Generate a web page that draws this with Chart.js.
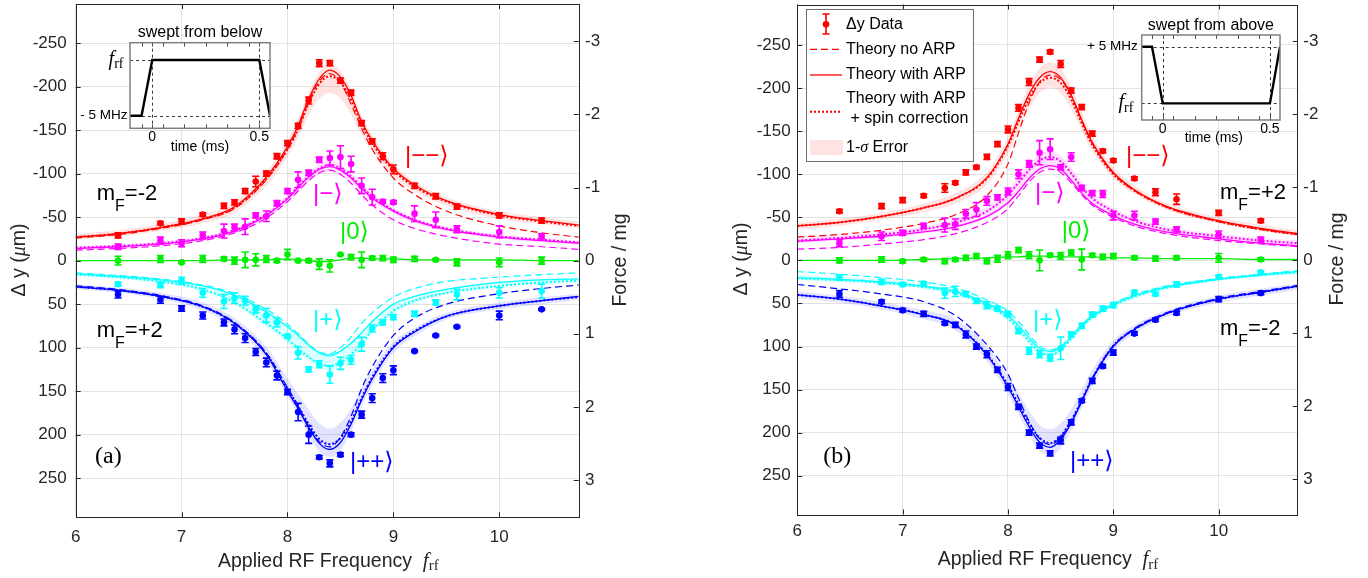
<!DOCTYPE html>
<html>
<head>
<meta charset="utf-8">
<title>Δy versus applied RF frequency</title>
<script src="https://cdn.jsdelivr.net/npm/chart.js@4.4.1/dist/chart.umd.min.js"></script>
<style>
html, body { margin:0; padding:0; background:#ffffff; }
#stage { position:relative; width:1368px; height:578px; overflow:hidden; background:#ffffff; }
#stage canvas { position:absolute; }
</style>
</head>
<body>
<div id="stage">
  <canvas id="chartA" width="684" height="578" style="left:0px;top:0px;"></canvas>
  <canvas id="chartB" width="684" height="578" style="left:684px;top:0px;"></canvas>
  <canvas id="insetA" width="220" height="140" style="left:70px;top:16px;"></canvas>
  <canvas id="insetB" width="220" height="140" style="left:1078px;top:8px;"></canvas>
</div>
<script>
// ---------------- data ----------------
const freq = [6.4, 6.8, 7.0, 7.2, 7.4, 7.5, 7.6, 7.7, 7.8, 7.9, 8.0, 8.1, 8.2, 8.3, 8.4, 8.5, 8.6, 8.7, 8.8, 8.9, 9.0, 9.2, 9.4, 9.6, 10.0, 10.4];
const curveX = [6, 6.4, 6.8, 7.2, 7.5, 7.8, 8.0, 8.1, 8.2, 8.3, 8.4, 8.5, 8.6, 8.7, 8.8, 9.0, 9.2, 9.5, 10, 10.4, 10.75];
const xTicks = [6, 7, 8, 9, 10];
const yTicks = [-250, -200, -150, -100, -50, 0, 50, 100, 150, 200, 250];
const forceTicks = [-3, -2, -1, 0, 1, 2, 3];

// (a) swept from below : measured data
const aRedData = [-29, -43, -45, -53, -63, -67, -80, -91, -100, -120, -135, -155, -184, -227, -227, -207, -193, -158, -137, -120, -105, -86, -74, -62, -52, -46];
const aRedErr  = [3, 2, 3, 2, 3, 3, 3, 6, 3, 3, 3, 3, 4, 4, 3, 3, 3, 3, 3, 4, 5, 3, 3, 3, 3, 3];
const aMagData = [-16, -23, -20, -29, -34, -38, -39, -52, -51, -66, -80, -93, -101, -116, -118, -119, -111, -86, -73, -68, -67, -54, -47, -36, -33, -28];
const aMagErr  = [3, 4, 4, 4, 8, 4, 9, 3, 6, 3, 3, 9, 3, 3, 8, 13, 9, 9, 9, 2, 2, 9, 9, 4, 7, 3];
const aGrnData = [0, -2, 2, -2, -2, 0, -1, -1, -2, 0, -7, 0, 0, 4, 6, -7, -4, -1, -3, -3, -1, -2, -1, 2, 2, 0];
const aGrnErr  = [5, 4, 1, 4, 2, 4, 9, 7, 4, 2, 6, 1, 2, 6, 7, 1, 3, 9, 2, 3, 3, 3, 1, 4, 5, 4];
const aCyaData = [27, 28, 23, 37, 47, 43, 46, 56, 63, 71, 87, 106, 125, 119, 131, 118, 114, 96, 78, 71, 65, 61, 48, 39, 37, 35];
const aCyaErr  = [2, 3, 4, 5, 8, 6, 5, 4, 8, 5, 2, 7, 3, 4, 10, 7, 5, 8, 4, 3, 3, 3, 3, 6, 6, 8];
const aBluData = [39, 45, 55, 63, 71, 79, 89, 105, 117, 132, 151, 174, 200, 226, 233, 223, 200, 177, 158, 135, 126, 104, 86, 76, 63, 56];
const aBluErr  = [4, 4, 3, 4, 4, 5, 5, 4, 5, 5, 3, 10, 10, 2, 4, 2, 2, 4, 5, 5, 5, 1, 1, 1, 5, 1];

// (a) theory curves (sampled at curveX)
const aRedSolid   = [-27, -31, -38, -48, -62, -96, -131, -155, -186, -209, -219, -211, -190, -160, -138, -106, -87, -69, -53, -46, -41];
const aRedDotted  = [-27, -31, -38, -48, -61, -94, -128, -151, -181, -203, -212, -205, -185, -157, -135, -104, -85, -68, -52, -45, -40];
const aRedDashed  = [-26, -30, -37, -47, -60, -93, -128, -152, -183, -206, -215, -205, -180, -152, -128, -95, -76, -57, -40, -32, -27];
const aRedBandOut = [-31, -35, -42, -53, -67, -102, -138, -163, -193, -216, -226, -218, -197, -167, -144, -111, -91, -73, -57, -50, -45];
const aRedBandIn  = [-24, -28, -34, -43, -55, -86, -119, -141, -167, -186, -193, -186, -168, -145, -126, -98, -80, -63, -48, -42, -37];
const aMagSolid   = [-14, -16, -19, -25, -34, -52, -71, -84, -96, -105, -108, -104, -95, -83, -72, -57, -46, -36, -27, -23, -20];
const aMagDotted  = [-15, -17, -20, -26, -35, -53, -72, -85, -97, -106, -110, -106, -97, -85, -74, -58, -47, -37, -28, -24, -21];
const aMagDashed  = [-12, -14, -17, -23, -32, -49, -68, -80, -92, -101, -104, -99, -89, -76, -64, -47, -37, -28, -19, -16, -13];
const aMagBandOut = [-16, -18, -22, -28, -37, -56, -76, -89, -101, -111, -115, -111, -101, -89, -77, -61, -49, -39, -30, -26, -23];
const aMagBandIn  = [-12, -14, -17, -23, -31, -48, -66, -78, -90, -99, -102, -98, -90, -79, -68, -54, -43, -34, -25, -21, -18];
const aGrnSolid   = [0, 0, 0, 0, -1, -1, -2, -1, 0, 1, 1, -1, -3, -3, -2, -2, -1, -1, -1, 0, 0];
const aCyaSolid   = [15, 18, 22, 29, 40, 59, 76, 86, 97, 106, 109, 104, 95, 83, 70, 50, 41, 33, 25, 22, 21];
const aCyaDotted  = [16, 19, 24, 33, 48, 72, 90, 101, 111, 118, 121, 117, 108, 95, 80, 58, 46, 37, 29, 25, 23];
const aCyaDashed  = [14, 17, 21, 28, 38, 56, 73, 84, 96, 105, 107, 100, 88, 72, 60, 42, 32, 24, 19, 16, 14];
const aCyaBandOut = [17, 21, 26, 36, 51, 76, 95, 106, 116, 123, 126, 122, 113, 100, 84, 61, 49, 39, 31, 27, 25];
const aCyaBandIn  = [14, 17, 21, 28, 39, 57, 74, 84, 95, 104, 107, 102, 93, 81, 68, 49, 40, 32, 24, 21, 20];
const aBluSolid   = [30, 34, 41, 53, 72, 108, 150, 170, 192, 210, 217, 209, 188, 160, 136, 100, 82, 64, 52, 46, 41];
const aBluDotted  = [30, 34, 41, 53, 72, 107, 147, 167, 188, 205, 211, 204, 185, 158, 134, 99, 81, 64, 52, 46, 42];
const aBluDashed  = [29, 33, 40, 52, 71, 106, 146, 167, 190, 208, 214, 203, 179, 147, 122, 86, 66, 50, 38, 32, 28];
const aBluBandOut = [33, 37, 44, 57, 77, 115, 156, 177, 200, 219, 226, 218, 197, 168, 143, 106, 87, 68, 56, 50, 45];
const aBluBandIn  = [27, 31, 37, 48, 66, 99, 135, 153, 171, 187, 193, 186, 170, 146, 125, 93, 77, 60, 48, 42, 38];

// (b) swept from above : measured data
const bRedData = [-57, -63, -70, -75, -84, -90, -102, -108, -120, -135, -152, -177, -207, -233, -242, -228, -197, -178, -147, -127, -116, -95, -79, -71, -55, -46];
const bRedErr  = [2, 3, 3, 2, 5, 2, 3, 2, 3, 3, 4, 4, 4, 3, 2, 4, 3, 3, 3, 2, 2, 2, 4, 6, 3, 2];
const bMagData = [-20, -28, -32, -40, -41, -42, -54, -59, -69, -73, -80, -100, -112, -125, -129, -108, -120, -84, -78, -77, -52, -52, -45, -36, -30, -24];
const bMagErr  = [4, 5, 3, 3, 8, 6, 5, 8, 5, 3, 4, 5, 4, 14, 12, 3, 5, 3, 3, 4, 5, 5, 3, 3, 4, 3];
const bGrnData = [0, -1, 1, -1, 1, -1, -3, -5, 1, -2, -6, -12, -6, 0, -6, -5, -9, -1, -6, -4, -5, -3, -2, -3, -3, -1];
const bGrnErr  = [3, 3, 2, 2, 3, 2, 3, 3, 3, 4, 4, 3, 4, 12, 2, 4, 3, 12, 2, 3, 3, 2, 3, 2, 5, 2];
const bCyaData = [20, 25, 28, 27, 38, 36, 39, 47, 52, 56, 62, 82, 105, 109, 113, 102, 86, 76, 63, 56, 52, 37, 39, 28, 19, 14];
const bCyaErr  = [3, 3, 2, 2, 6, 6, 3, 3, 4, 3, 3, 3, 4, 4, 4, 13, 3, 3, 3, 3, 3, 2, 2, 3, 2, 2];
const bBluData = [39, 48, 58, 62, 73, 75, 86, 100, 109, 127, 147, 170, 200, 215, 224, 209, 188, 163, 140, 123, 107, 85, 69, 61, 45, 38];
const bBluErr  = [4, 2, 2, 3, 2, 3, 4, 3, 4, 3, 4, 3, 3, 3, 3, 4, 3, 2, 3, 2, 3, 2, 2, 2, 3, 2];

// (b) theory curves
const bRedSolid   = [-40, -44, -51, -61, -72, -96, -135, -165, -193, -212, -219, -212, -192, -163, -137, -102, -82, -63, -46, -37, -31];
const bRedDotted  = [-40, -44, -51, -61, -72, -95, -133, -161, -188, -206, -212, -206, -187, -159, -134, -100, -81, -62, -45, -36, -30];
const bRedDashed  = [-27, -30, -35, -43, -53, -75, -112, -148, -183, -207, -215, -210, -191, -162, -136, -101, -81, -62, -45, -36, -30];
const bRedBandOut = [-44, -48, -55, -66, -78, -103, -143, -174, -203, -223, -230, -223, -202, -172, -145, -108, -87, -67, -50, -41, -35];
const bRedBandIn  = [-36, -40, -47, -56, -66, -88, -124, -151, -176, -194, -201, -194, -176, -150, -127, -95, -77, -59, -43, -34, -28];
const bMagSolid   = [-22, -25, -28, -33, -39, -51, -67, -80, -95, -106, -110, -106, -93, -78, -66, -52, -42, -33, -25, -20, -17];
const bMagDotted  = [-23, -26, -30, -36, -44, -57, -76, -90, -105, -116, -120, -115, -101, -85, -72, -57, -46, -36, -28, -23, -20];
const bMagDashed  = [-13, -15, -19, -24, -31, -44, -60, -75, -91, -102, -106, -102, -90, -76, -64, -50, -40, -31, -23, -19, -16];
const bMagBandOut = [-26, -29, -33, -39, -48, -62, -82, -97, -112, -123, -127, -122, -108, -91, -77, -61, -50, -39, -31, -26, -23];
const bMagBandIn  = [-20, -23, -26, -31, -37, -49, -65, -78, -92, -103, -107, -103, -90, -76, -64, -50, -40, -31, -23, -18, -15];
const bGrnSolid   = [0, 0, 0, -1, -2, -3, -4, -4, -5, -5, -5, -4, -4, -4, -4, -3, -3, -2, -2, -1, -1];
const bCyaSolid   = [20, 22, 25, 30, 36, 50, 64, 76, 90, 102, 106, 101, 89, 76, 65, 51, 41, 31, 22, 17, 13];
const bCyaDotted  = [21, 23, 26, 31, 38, 52, 67, 80, 94, 106, 110, 104, 91, 77, 66, 52, 42, 32, 22, 17, 14];
const bCyaDashed  = [13, 16, 20, 25, 32, 46, 59, 71, 86, 99, 104, 100, 88, 75, 64, 50, 40, 30, 21, 16, 12];
const bCyaBandOut = [23, 25, 28, 33, 40, 55, 70, 83, 97, 109, 113, 107, 94, 80, 69, 55, 45, 34, 24, 19, 16];
const bCyaBandIn  = [17, 19, 22, 27, 34, 48, 61, 73, 87, 99, 103, 98, 86, 73, 62, 48, 38, 29, 20, 15, 11];
const bBluSolid   = [40, 45, 53, 63, 75, 110, 147, 170, 193, 211, 217, 208, 189, 164, 138, 100, 80, 62, 45, 37, 30];
const bBluDotted  = [40, 45, 53, 63, 75, 109, 145, 167, 189, 206, 212, 204, 186, 162, 137, 99, 80, 62, 45, 37, 30];
const bBluDashed  = [28, 33, 39, 48, 64, 98, 132, 160, 187, 207, 214, 205, 187, 163, 137, 99, 79, 61, 44, 36, 29];
const bBluBandOut = [44, 49, 57, 68, 81, 117, 155, 179, 203, 221, 226, 218, 198, 172, 146, 106, 85, 66, 49, 41, 34];
const bBluBandIn  = [36, 41, 48, 58, 68, 100, 134, 154, 175, 191, 196, 189, 173, 150, 127, 93, 75, 58, 41, 33, 27];

// insets: RF frequency ramp versus time (ms)
const insetATime  = [-0.11, -0.05, 0, 0.5, 0.55];
const insetALevel = [0.147, 0.147, 0.798, 0.798, 0.147];
const insetBTime  = [-0.11, -0.05, 0, 0.5, 0.547];
const insetBLevel = [0.862, 0.862, 0.196, 0.196, 0.862];
const insetTickLabels = [0, 0.5];
const insetMinorTicks = [-0.05, 0.05, 0.15, 0.25, 0.35, 0.45];

// ---------------- styling helpers ----------------
const FONT = "'Liberation Sans', Arial, Helvetica, sans-serif";
const SERIF = "'Liberation Serif', 'Times New Roman', serif";
const KET = "24px 'Liberation Sans', 'DejaVu Sans', sans-serif";
const AXIS = '#262626';
const GRID = '#e2e2e2';
const RED = '#ff0000', MAG = '#ff00ff', GRN = '#00ee00', CYA = '#00ffff', BLU = '#0000ff';
Chart.defaults.font.family = FONT;

function pts(xs, ys) { return xs.map((x, i) => ({ x: x, y: ys[i] })); }

function curve(ys, color, dash, width) {
  return { data: pts(curveX, ys), showLine: true, borderColor: color, borderWidth: width, borderDash: dash,
           pointRadius: 0, fill: false, cubicInterpolationMode: 'monotone', order: 3 };
}

function stateDatasets(states) {
  const ds = [];
  states.forEach(s => {
    if (s.bandOut) {
      ds.push({ data: pts(curveX, s.bandOut), showLine: true, borderWidth: 0, borderColor: 'rgba(0,0,0,0)',
                pointRadius: 0, fill: false, cubicInterpolationMode: 'monotone', order: 5 });
      ds.push({ data: pts(curveX, s.bandIn), showLine: true, borderWidth: 0, borderColor: 'rgba(0,0,0,0)',
                pointRadius: 0, fill: '-1', backgroundColor: s.band, cubicInterpolationMode: 'monotone', order: 5 });
    }
    if (s.dashed) ds.push(curve(s.dashed, s.color, [7, 4], 1.2));
    ds.push(curve(s.solid, s.color, [], 1.3));
    if (s.dotted) ds.push(curve(s.dotted, s.color, [2, 2], 2));
    ds.push({ data: pts(freq, s.data), errs: s.err, showLine: false, pointRadius: 3.3, pointBorderWidth: 0,
              pointBackgroundColor: s.color, pointBorderColor: s.color, borderColor: s.color, backgroundColor: s.color, order: 1 });
  });
  return ds;
}

const errorBarPlugin = {
  id: 'errorbars',
  afterDatasetsDraw(chart) {
    const ctx = chart.ctx, xs = chart.scales.x, ys = chart.scales.y;
    chart.data.datasets.forEach(ds => {
      if (!ds.errs) return;
      ctx.save();
      ctx.strokeStyle = ds.borderColor; ctx.lineWidth = 1.6;
      ctx.beginPath();
      ds.data.forEach((p, i) => {
        const e = ds.errs[i];
        const px = xs.getPixelForValue(p.x);
        const y1 = ys.getPixelForValue(p.y - e), y2 = ys.getPixelForValue(p.y + e);
        ctx.moveTo(px, y1); ctx.lineTo(px, y2);
        ctx.moveTo(px - 3.6, y1); ctx.lineTo(px + 3.6, y1);
        ctx.moveTo(px - 3.6, y2); ctx.lineTo(px + 3.6, y2);
      });
      ctx.stroke();
      ctx.restore();
    });
  }
};

const framePlugin = {
  id: 'frame',
  afterDatasetsDraw(chart) {
    const ctx = chart.ctx, a = chart.chartArea, sc = chart.scales;
    ctx.save();
    ctx.strokeStyle = AXIS; ctx.lineWidth = 1;
    ctx.strokeRect(Math.round(a.left) + 0.5, Math.round(a.top) + 0.5, Math.round(a.right - a.left), Math.round(a.bottom - a.top));
    ctx.beginPath();
    xTicks.forEach(v => {
      const px = Math.round(sc.x.getPixelForValue(v)) + 0.5;
      ctx.moveTo(px, a.bottom); ctx.lineTo(px, a.bottom - 5);
      ctx.moveTo(px, a.top); ctx.lineTo(px, a.top + 5);
    });
    yTicks.forEach(v => {
      const py = Math.round(sc.y.getPixelForValue(v)) + 0.5;
      ctx.moveTo(a.left, py); ctx.lineTo(a.left + 5, py);
    });
    forceTicks.forEach(v => {
      const py = Math.round(sc.y2.getPixelForValue(v)) + 0.5;
      ctx.moveTo(a.right, py); ctx.lineTo(a.right - 5, py);
    });
    ctx.stroke();
    ctx.restore();
  }
};

function runs(ctx, list, x, y, align, color) {
  let w = 0;
  list.forEach(r => { ctx.font = r.f; r.w = ctx.measureText(r.t).width; w += r.w; });
  let cx = align === 'center' ? x - w / 2 : (align === 'right' ? x - w : x);
  ctx.textAlign = 'left';
  list.forEach(r => { ctx.font = r.f; ctx.fillStyle = r.c || color; ctx.fillText(r.t, cx, y + (r.dy || 0)); cx += r.w; });
}
function rotRuns(ctx, list, x, y, color) {
  ctx.save(); ctx.translate(x, y); ctx.rotate(-Math.PI / 2);
  ctx.textBaseline = 'alphabetic';
  runs(ctx, list, 0, 0, 'center', color);
  ctx.restore();
}
function ket(ctx, t, x, y, color) {
  ctx.save(); ctx.font = KET; ctx.fillStyle = color; ctx.textAlign = 'left'; ctx.textBaseline = 'middle';
  ctx.fillText(t, x, y); ctx.restore();
}
function mF(ctx, sign, x, y) {
  ctx.save(); ctx.textBaseline = 'alphabetic';
  runs(ctx, [{ t: 'm', f: '22px ' + FONT }, { t: 'F', f: '16px ' + FONT, dy: 11 }, { t: '=' + sign + '2', f: '22px ' + FONT }], x, y, 'left', '#000');
  ctx.restore();
}
function xTitle(ctx, x, y) {
  ctx.save(); ctx.textBaseline = 'alphabetic';
  runs(ctx, [{ t: 'Applied RF Frequency  ', f: '19.5px ' + FONT }, { t: 'f', f: 'italic 21px ' + SERIF },
             { t: 'rf', f: '15px ' + SERIF, dy: 3.5 }], x, y, 'center', AXIS);
  ctx.restore();
}
function yTitles(ctx, xl, xr, cy) {
  rotRuns(ctx, [{ t: 'Δ y (', f: '19.5px ' + FONT }, { t: 'μ', f: 'italic 20px ' + SERIF }, { t: 'm)', f: '19.5px ' + FONT }], xl, cy, AXIS);
  rotRuns(ctx, [{ t: 'Force / mg', f: '19.5px ' + FONT }], xr, cy, AXIS);
}
function panelTag(ctx, t, x, y) {
  ctx.save(); ctx.font = '24px ' + SERIF; ctx.fillStyle = '#000'; ctx.textAlign = 'left'; ctx.textBaseline = 'alphabetic';
  ctx.fillText(t, x, y); ctx.restore();
}

function drawLegend(ctx) {
  const L = 122.5, T = 9.5, R = 289.5, B = 161.5;
  ctx.save();
  ctx.fillStyle = '#fff'; ctx.fillRect(L, T, R - L, B - T);
  ctx.strokeStyle = '#6e6e6e'; ctx.lineWidth = 1; ctx.strokeRect(L, T, R - L, B - T);
  ctx.strokeStyle = RED; ctx.fillStyle = RED; ctx.lineWidth = 1.6;
  ctx.beginPath();
  ctx.moveTo(142, 14); ctx.lineTo(142, 34); ctx.moveTo(138.4, 14); ctx.lineTo(145.6, 14); ctx.moveTo(138.4, 34); ctx.lineTo(145.6, 34);
  ctx.stroke();
  ctx.beginPath(); ctx.arc(142, 24.3, 3.3, 0, Math.PI * 2); ctx.fill();
  const sample = (y, dash, w) => { ctx.save(); ctx.setLineDash(dash); ctx.lineWidth = w; ctx.beginPath(); ctx.moveTo(126, y); ctx.lineTo(158, y); ctx.stroke(); ctx.restore(); };
  sample(49.3, [7, 4], 1.2);
  sample(75, [], 1.3);
  sample(111.7, [2, 2], 2);
  ctx.fillStyle = 'rgba(255,0,0,0.11)'; ctx.fillRect(126, 140, 33, 15);
  ctx.fillStyle = '#000'; ctx.textBaseline = 'middle'; ctx.textAlign = 'left';
  ctx.font = '16px ' + FONT;
  ctx.fillText('Δy Data', 162, 24.3);
  ctx.fillText('Theory no ARP', 162, 49.3);
  ctx.fillText('Theory with ARP', 162, 75);
  ctx.fillText('Theory with ARP', 162, 99);
  ctx.fillText('+ spin correction', 166.5, 119);
  runs(ctx, [{ t: '1-', f: '16px ' + FONT }, { t: 'σ', f: 'italic 16px ' + SERIF }, { t: ' Error', f: '16px ' + FONT }], 162, 147.7, 'left', '#000');
  ctx.restore();
}

function textPlugin(fn) { return { id: 'texts', afterDraw(chart) { fn(chart.ctx, chart); } }; }

function noPadV(s) { s.paddingTop = 0; s.paddingBottom = 0; }
function noPadH(s) { s.paddingLeft = 0; s.paddingRight = 0; }

function makeChart(id, cfg) {
  const tickFont = { family: FONT, size: 17 };
  return new Chart(document.getElementById(id), {
    type: 'scatter',
    data: { datasets: stateDatasets(cfg.states) },
    options: {
      responsive: false, animation: false, events: [],
      layout: { padding: { top: cfg.top, left: 0, right: 0, bottom: 0 } },
      plugins: { legend: { display: false }, tooltip: { enabled: false } },
      scales: {
        x: { type: 'linear', position: 'bottom', min: 6, max: 10.75,
             afterBuildTicks: s => { s.ticks = xTicks.map(v => ({ value: v })); },
             afterFit: s => { s.height = cfg.xH; noPadH(s); },
             grid: { color: GRID, lineWidth: 1, drawTicks: false }, border: { display: false },
             ticks: { font: tickFont, color: AXIS, padding: cfg.xPad, maxRotation: 0, autoSkip: false, callback: v => String(v) } },
        y: { type: 'linear', position: 'left', reverse: true, min: cfg.yMin, max: cfg.yMax,
             afterBuildTicks: s => { s.ticks = yTicks.map(v => ({ value: v })); },
             afterFit: s => { s.width = cfg.yW; noPadV(s); },
             grid: { color: GRID, lineWidth: 1, drawTicks: false }, border: { display: false },
             ticks: { font: tickFont, color: AXIS, padding: cfg.yPad, autoSkip: false, callback: v => String(v) } },
        y2: { type: 'linear', position: 'right', reverse: true, min: cfg.fMin, max: cfg.fMax,
             afterBuildTicks: s => { s.ticks = forceTicks.map(v => ({ value: v })); },
             afterFit: s => { s.width = cfg.y2W; noPadV(s); },
             grid: { drawOnChartArea: false, drawTicks: false }, border: { display: false },
             ticks: { font: tickFont, color: AXIS, padding: cfg.y2Pad, autoSkip: false, callback: v => String(v) } }
      }
    },
    plugins: [errorBarPlugin, framePlugin, textPlugin(cfg.draw)]
  });
}

// ---------------- panel (a) ----------------
makeChart('chartA', {
  top: 3.5, yW: 75.7, y2W: 105.3, xH: 60.7, xPad: 9.5, yPad: 9, y2Pad: 6.3,
  yMin: -295, yMax: 295, fMin: -3.51, fMax: 3.51,
  states: [
    { color: RED, band: 'rgba(255,0,0,0.11)', data: aRedData, err: aRedErr, solid: aRedSolid, dotted: aRedDotted, dashed: aRedDashed, bandOut: aRedBandOut, bandIn: aRedBandIn },
    { color: MAG, band: 'rgba(255,0,255,0.12)', data: aMagData, err: aMagErr, solid: aMagSolid, dotted: aMagDotted, dashed: aMagDashed, bandOut: aMagBandOut, bandIn: aMagBandIn },
    { color: GRN, data: aGrnData, err: aGrnErr, solid: aGrnSolid },
    { color: CYA, band: 'rgba(0,255,255,0.15)', data: aCyaData, err: aCyaErr, solid: aCyaSolid, dotted: aCyaDotted, dashed: aCyaDashed, bandOut: aCyaBandOut, bandIn: aCyaBandIn },
    { color: BLU, band: 'rgba(0,0,255,0.11)', data: aBluData, err: aBluErr, solid: aBluSolid, dotted: aBluDotted, dashed: aBluDashed, bandOut: aBluBandOut, bandIn: aBluBandIn }
  ],
  draw(ctx) {
    ket(ctx, '|−−⟩', 405, 156, RED);
    ket(ctx, '|−⟩', 313, 194, MAG);
    ket(ctx, '|0⟩', 340, 232, GRN);
    ket(ctx, '|+⟩', 313, 320, CYA);
    ket(ctx, '|++⟩', 350, 462, BLU);
    mF(ctx, '-', 96.7, 200);
    mF(ctx, '+', 96.7, 336.7);
    panelTag(ctx, '(a)', 95, 463);
    xTitle(ctx, 328.3, 566.7);
    yTitles(ctx, 24.5, 625.5, 260);
  }
});

// ---------------- panel (b) ----------------
makeChart('chartB', {
  top: 4.5, yW: 113.3, y2W: 70.3, xH: 63.5, xPad: 7, yPad: 6.6, y2Pad: 5.6,
  yMin: -297, yMax: 295, fMin: -3.50, fMax: 3.48,
  states: [
    { color: RED, band: 'rgba(255,0,0,0.11)', data: bRedData, err: bRedErr, solid: bRedSolid, dotted: bRedDotted, dashed: bRedDashed, bandOut: bRedBandOut, bandIn: bRedBandIn },
    { color: MAG, band: 'rgba(255,0,255,0.12)', data: bMagData, err: bMagErr, solid: bMagSolid, dotted: bMagDotted, dashed: bMagDashed, bandOut: bMagBandOut, bandIn: bMagBandIn },
    { color: GRN, data: bGrnData, err: bGrnErr, solid: bGrnSolid },
    { color: CYA, band: 'rgba(0,255,255,0.15)', data: bCyaData, err: bCyaErr, solid: bCyaSolid, dotted: bCyaDotted, dashed: bCyaDashed, bandOut: bCyaBandOut, bandIn: bCyaBandIn },
    { color: BLU, band: 'rgba(0,0,255,0.11)', data: bBluData, err: bBluErr, solid: bBluSolid, dotted: bBluDotted, dashed: bBluDashed, bandOut: bBluBandOut, bandIn: bBluBandIn }
  ],
  draw(ctx) {
    ket(ctx, '|−−⟩', 442, 156.5, RED);
    ket(ctx, '|−⟩', 351, 193, MAG);
    ket(ctx, '|0⟩', 377.7, 231, GRN);
    ket(ctx, '|+⟩', 349, 320, CYA);
    ket(ctx, '|++⟩', 386, 461, BLU);
    mF(ctx, '+', 536, 199.3);
    mF(ctx, '-', 536, 335);
    panelTag(ctx, '(b)', 139.3, 463);
    xTitle(ctx, 364, 565);
    yTitles(ctx, 63, 658.5, 259);
    drawLegend(ctx);
  }
});

// ---------------- insets ----------------
function insetPlugin(o) {
  return {
    id: 'inset',
    beforeDatasetsDraw(chart) {
      const ctx = chart.ctx, a = chart.chartArea, x = chart.scales.x, y = chart.scales.y;
      ctx.save();
      ctx.fillStyle = '#fff'; ctx.fillRect(a.left, a.top, a.right - a.left, a.bottom - a.top);
      ctx.setLineDash([3, 3]); ctx.strokeStyle = '#3a3a3a'; ctx.lineWidth = 1;
      ctx.beginPath();
      o.levels.forEach(v => { const py = Math.round(y.getPixelForValue(v)) + 0.5; ctx.moveTo(a.left, py); ctx.lineTo(a.right, py); });
      insetTickLabels.forEach(t => { const px = Math.round(x.getPixelForValue(t)) + 0.5; ctx.moveTo(px, a.top); ctx.lineTo(px, a.bottom); });
      ctx.stroke();
      ctx.restore();
    },
    afterDraw(chart) {
      const ctx = chart.ctx, a = chart.chartArea, x = chart.scales.x, y = chart.scales.y;
      ctx.save();
      ctx.strokeStyle = '#808080'; ctx.lineWidth = 1.5;
      ctx.strokeRect(a.left, a.top, a.right - a.left, a.bottom - a.top);
      ctx.strokeStyle = '#555'; ctx.lineWidth = 1;
      ctx.beginPath();
      insetMinorTicks.concat(insetTickLabels).forEach(t => {
        const px = Math.round(x.getPixelForValue(t)) + 0.5;
        ctx.moveTo(px, a.bottom); ctx.lineTo(px, a.bottom - 4);
        ctx.moveTo(px, a.top); ctx.lineTo(px, a.top + 4);
      });
      ctx.stroke();
      const cx = (a.left + a.right) / 2;
      ctx.fillStyle = '#000';
      ctx.textBaseline = 'alphabetic';
      runs(ctx, [{ t: o.title, f: '16px ' + FONT }], cx, a.top - 5.5, 'center', '#000');
      ctx.textBaseline = 'middle';
      insetTickLabels.forEach(t => runs(ctx, [{ t: String(t), f: '14px ' + FONT }], x.getPixelForValue(t), a.bottom + 9, 'center', '#000'));
      runs(ctx, [{ t: 'time (ms)', f: '14px ' + FONT }], cx + o.timeShift, a.bottom + 18.5, 'center', '#000');
      runs(ctx, [{ t: o.mhz, f: '13.5px ' + FONT }], a.left - o.mhzGap, y.getPixelForValue(o.mhzLevel), 'right', '#000');
      ctx.textBaseline = 'alphabetic';
      runs(ctx, [{ t: 'f', f: 'italic 20px ' + SERIF }, { t: 'rf', f: '14px ' + SERIF, dy: 3.5 }],
           a.left - o.frfGap, y.getPixelForValue(o.frfLevel) + 5, 'right', '#000');
      ctx.restore();
    }
  };
}

function makeInset(id, times, levels, o, pad) {
  return new Chart(document.getElementById(id), {
    type: 'scatter',
    data: { datasets: [{ data: pts(times, levels), showLine: true, borderColor: '#000', borderWidth: 2.4, pointRadius: 0, fill: false }] },
    options: {
      responsive: false, animation: false, events: [],
      layout: { padding: pad },
      plugins: { legend: { display: false }, tooltip: { enabled: false } },
      scales: { x: { type: 'linear', display: false, min: o.tMin, max: o.tMax }, y: { type: 'linear', display: false, min: 0, max: 1 } }
    },
    plugins: [insetPlugin(o)]
  });
}

makeInset('insetA', insetATime, insetALevel,
  { title: 'swept from below', mhz: '- 5 MHz', mhzLevel: insetALevel[0], frfLevel: insetALevel[2],
    levels: [insetALevel[0], insetALevel[2]], tMin: -0.104, tMax: 0.55, mhzGap: 2.5, frfGap: 6.5, timeShift: 0 },
  { left: 60, right: 20, top: 26.7, bottom: 27.7 });

makeInset('insetB', insetBTime, insetBLevel,
  { title: 'swept from above', mhz: '+ 5 MHz', mhzLevel: insetBLevel[0], frfLevel: insetBLevel[2],
    levels: [insetBLevel[0], insetBLevel[2]], tMin: -0.098, tMax: 0.547, mhzGap: 4, frfGap: 8.4, timeShift: 3 },
  { left: 63.7, right: 18, top: 27, bottom: 28 });
</script>
</body>
</html>
